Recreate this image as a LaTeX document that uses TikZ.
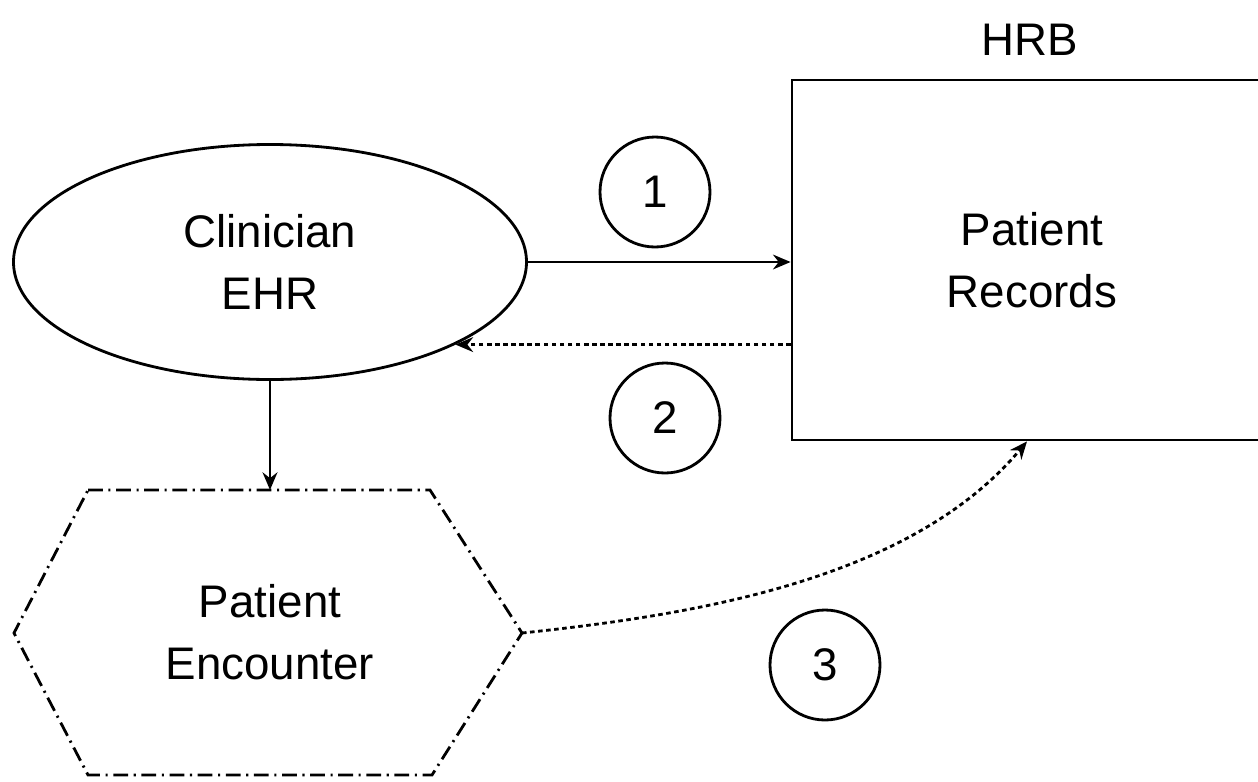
\documentclass[tikz,border=0pt]{standalone}
\usepackage{fontspec}
\setmainfont{Liberation Sans}
\usepackage{tikz}
\usetikzlibrary{arrows.meta}
\usetikzlibrary{shapes.geometric}
\usetikzlibrary{positioning}

\begin{document}
\begin{tikzpicture}[font=\fontsize{13}{17.6}\selectfont, line width=0.8pt]
	\useasboundingbox (0,0) rectangle (12.58,7.81);
	\begin{scope}[every node/.style={draw, align=center, inner sep=2pt}]
		\node[ellipse, minimum width=5.13cm, minimum height=2.35cm] (ehr) at (2.70,5.19) {Clinician\\EHR};
		\node[rectangle, minimum width=4.80cm, minimum height=3.60cm] (rec) at (10.32,5.21) {Patient\\Records};
	\end{scope}
	\node[align=center] (enc) at (2.70,1.485) {Patient\\Encounter};
	% hexagon round the encounter
	\coordinate (enctop) at (2.70,2.91);
	\coordinate (encright) at (5.22,1.48);
	\draw[dash pattern=on 4.2pt off 1.6pt on 0.6pt off 1.6pt]
		(0.88,2.91) -- (enctop) -- (4.30,2.91) -- (encright) -- (4.32,0.06)
		-- (0.88,0.06) -- (0.14,1.48) -- cycle;
	\node (hrb) at (10.30,7.41) {HRB};
	\begin{scope}[every node/.style={circle, draw, minimum size=1.10cm, inner sep=0pt}]
		\node (one) at (6.55,5.89) {1};
		\node (two) at (6.65,3.63) {2};
		\node (three) at (8.25,1.16) {3};
	\end{scope}
	\begin{scope}[>={Stealth[length=5pt, width=4.2pt]}]
		\draw[->] (ehr.east) -- (ehr.east -| rec.west);
		\draw[->, dash pattern=on 1.3pt off 1pt] (rec.west |- ehr.-24.5) -- (ehr.-24.5);
		\draw[->] (ehr.south) -- (enctop);
		\draw[->, dash pattern=on 1.3pt off 1pt] (encright) to[out=6, in=-130, looseness=0.85] ([xshift=-0.05cm]rec.south);
	\end{scope}
\end{tikzpicture}
\end{document}
